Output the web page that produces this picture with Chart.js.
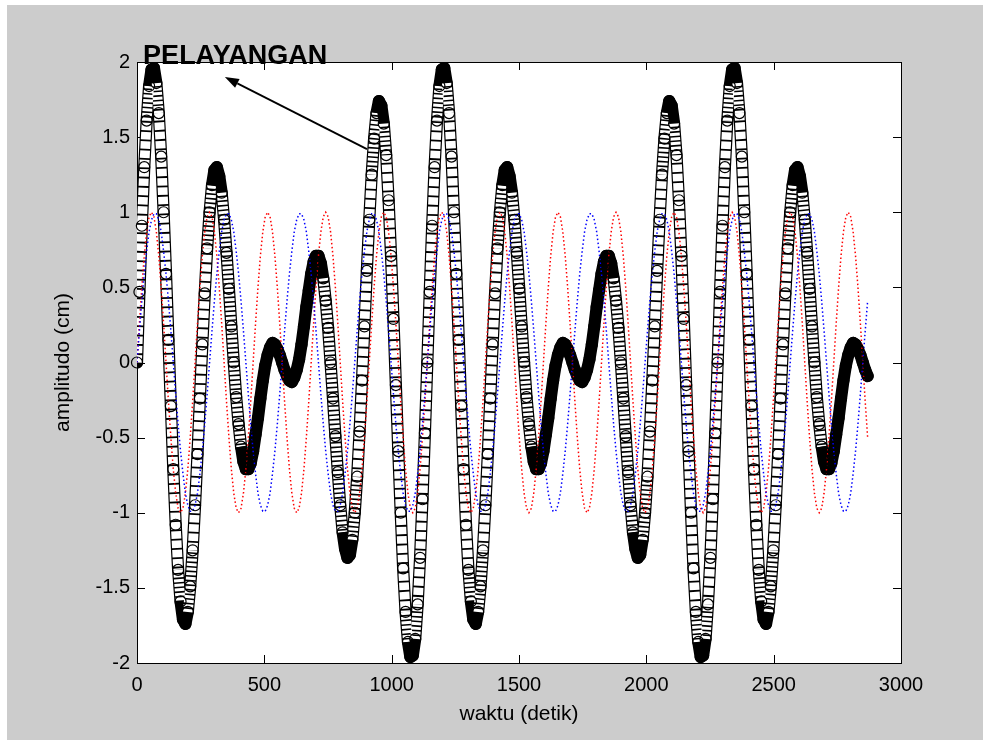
<!DOCTYPE html>
<html>
<head>
<meta charset="utf-8">
<title>Pelayangan</title>
<script src="https://cdn.jsdelivr.net/npm/chart.js@4.4.1/dist/chart.umd.min.js"></script>
<style>
  html, body { margin: 0; padding: 0; background: #fff; }
  canvas { display: block; }
</style>
</head>
<body>
<canvas id="chart" width="983" height="740"></canvas>
<script>
// waktu (detik) of each sample
const waktu = [
  0, 9.5, 19, 28.5, 38, 47.5, 57, 66.5, 76, 85.5,
  95, 104.5, 114, 123.5, 133, 142.5, 152, 161.5, 171, 180.5,
  190, 199.5, 209, 218.5, 228, 237.5, 247, 256.5, 266, 275.5,
  285, 294.5, 304, 313.5, 323, 332.5, 342, 351.5, 361, 370.5,
  380, 389.5, 399, 408.5, 418, 427.5, 437, 446.5, 456, 465.5,
  475, 484.5, 494, 503.5, 513, 522.5, 532, 541.5, 551, 560.5,
  570, 579.5, 589, 598.5, 608, 617.5, 627, 636.5, 646, 655.5,
  665, 674.5, 684, 693.5, 703, 712.5, 722, 731.5, 741, 750.5,
  760, 769.5, 779, 788.5, 798, 807.5, 817, 826.5, 836, 845.5,
  855, 864.5, 874, 883.5, 893, 902.5, 912, 921.5, 931, 940.5,
  950, 959.5, 969, 978.5, 988, 997.5, 1007, 1016.5, 1026, 1035.5,
  1045, 1054.5, 1064, 1073.5, 1083, 1092.5, 1102, 1111.5, 1121, 1130.5,
  1140, 1149.5, 1159, 1168.5, 1178, 1187.5, 1197, 1206.5, 1216, 1225.5,
  1235, 1244.5, 1254, 1263.5, 1273, 1282.5, 1292, 1301.5, 1311, 1320.5,
  1330, 1339.5, 1349, 1358.5, 1368, 1377.5, 1387, 1396.5, 1406, 1415.5,
  1425, 1434.5, 1444, 1453.5, 1463, 1472.5, 1482, 1491.5, 1501, 1510.5,
  1520, 1529.5, 1539, 1548.5, 1558, 1567.5, 1577, 1586.5, 1596, 1605.5,
  1615, 1624.5, 1634, 1643.5, 1653, 1662.5, 1672, 1681.5, 1691, 1700.5,
  1710, 1719.5, 1729, 1738.5, 1748, 1757.5, 1767, 1776.5, 1786, 1795.5,
  1805, 1814.5, 1824, 1833.5, 1843, 1852.5, 1862, 1871.5, 1881, 1890.5,
  1900, 1909.5, 1919, 1928.5, 1938, 1947.5, 1957, 1966.5, 1976, 1985.5,
  1995, 2004.5, 2014, 2023.5, 2033, 2042.5, 2052, 2061.5, 2071, 2080.5,
  2090, 2099.5, 2109, 2118.5, 2128, 2137.5, 2147, 2156.5, 2166, 2175.5,
  2185, 2194.5, 2204, 2213.5, 2223, 2232.5, 2242, 2251.5, 2261, 2270.5,
  2280, 2289.5, 2299, 2308.5, 2318, 2327.5, 2337, 2346.5, 2356, 2365.5,
  2375, 2384.5, 2394, 2403.5, 2413, 2422.5, 2432, 2441.5, 2451, 2460.5,
  2470, 2479.5, 2489, 2498.5, 2508, 2517.5, 2527, 2536.5, 2546, 2555.5,
  2565, 2574.5, 2584, 2593.5, 2603, 2612.5, 2622, 2631.5, 2641, 2650.5,
  2660, 2669.5, 2679, 2688.5, 2698, 2707.5, 2717, 2726.5, 2736, 2745.5,
  2755, 2764.5, 2774, 2783.5, 2793, 2802.5, 2812, 2821.5, 2831, 2840.5,
  2850, 2859.5, 2869
];

// red dotted wave
const sinyalMerah = [
  0,0.26,0.5,0.71,0.87,0.97,1,0.97,0.87,0.71,0.5,0.26,0,-0.26,-0.5,-0.71,-0.87,-0.97,-1,-0.97,-0.87,-0.71,-0.5,-0.26,
  0,0.26,0.5,0.71,0.87,0.97,1,0.97,0.87,0.71,0.5,0.26,0,-0.26,-0.5,-0.71,-0.87,-0.97,-1,-0.97,-0.87,-0.71,-0.5,-0.26,
  0,0.26,0.5,0.71,0.87,0.97,1,0.97,0.87,0.71,0.5,0.26,0,-0.26,-0.5,-0.71,-0.87,-0.97,-1,-0.97,-0.87,-0.71,-0.5,-0.26,
  0,0.26,0.5,0.71,0.87,0.97,1,0.97,0.87,0.71,0.5,0.26,0,-0.26,-0.5,-0.71,-0.87,-0.97,-1,-0.97,-0.87,-0.71,-0.5,-0.26,
  0,0.26,0.5,0.71,0.87,0.97,1,0.97,0.87,0.71,0.5,0.26,0,-0.26,-0.5,-0.71,-0.87,-0.97,-1,-0.97,-0.87,-0.71,-0.5,-0.26,
  0,0.26,0.5,0.71,0.87,0.97,1,0.97,0.87,0.71,0.5,0.26,0,-0.26,-0.5,-0.71,-0.87,-0.97,-1,-0.97,-0.87,-0.71,-0.5,-0.26,
  0,0.26,0.5,0.71,0.87,0.97,1,0.97,0.87,0.71,0.5,0.26,0,-0.26,-0.5,-0.71,-0.87,-0.97,-1,-0.97,-0.87,-0.71,-0.5,-0.26,
  0,0.26,0.5,0.71,0.87,0.97,1,0.97,0.87,0.71,0.5,0.26,0,-0.26,-0.5,-0.71,-0.87,-0.97,-1,-0.97,-0.87,-0.71,-0.5,-0.26,
  0,0.26,0.5,0.71,0.87,0.97,1,0.97,0.87,0.71,0.5,0.26,0,-0.26,-0.5,-0.71,-0.87,-0.97,-1,-0.97,-0.87,-0.71,-0.5,-0.26,
  0,0.26,0.5,0.71,0.87,0.97,1,0.97,0.87,0.71,0.5,0.26,0,-0.26,-0.5,-0.71,-0.87,-0.97,-1,-0.97,-0.87,-0.71,-0.5,-0.26,
  0,0.26,0.5,0.71,0.87,0.97,1,0.97,0.87,0.71,0.5,0.26,0,-0.26,-0.5,-0.71,-0.87,-0.97,-1,-0.97,-0.87,-0.71,-0.5,-0.26,
  0,0.26,0.5,0.71,0.87,0.97,1,0.97,0.87,0.71,0.5,0.26,0,-0.26,-0.5,-0.71,-0.87,-0.97,-1,-0.97,-0.87,-0.71,-0.5,-0.26,
  0,0.26,0.5,0.71,0.87,0.97,1,0.97,0.87,0.71,0.5,0.26,0,-0.26,-0.5
];

// blue dotted wave
const sinyalBiru = [
  0,0.21,0.41,0.59,0.74,0.87,0.95,0.99,0.99,0.95,0.87,0.74,0.59,0.41,0.21,0,-0.21,-0.41,-0.59,-0.74,-0.87,-0.95,-0.99,-0.99,-0.95,-0.87,-0.74,-0.59,-0.41,-0.21,
  0,0.21,0.41,0.59,0.74,0.87,0.95,0.99,0.99,0.95,0.87,0.74,0.59,0.41,0.21,0,-0.21,-0.41,-0.59,-0.74,-0.87,-0.95,-0.99,-0.99,-0.95,-0.87,-0.74,-0.59,-0.41,-0.21,
  0,0.21,0.41,0.59,0.74,0.87,0.95,0.99,0.99,0.95,0.87,0.74,0.59,0.41,0.21,0,-0.21,-0.41,-0.59,-0.74,-0.87,-0.95,-0.99,-0.99,-0.95,-0.87,-0.74,-0.59,-0.41,-0.21,
  0,0.21,0.41,0.59,0.74,0.87,0.95,0.99,0.99,0.95,0.87,0.74,0.59,0.41,0.21,0,-0.21,-0.41,-0.59,-0.74,-0.87,-0.95,-0.99,-0.99,-0.95,-0.87,-0.74,-0.59,-0.41,-0.21,
  0,0.21,0.41,0.59,0.74,0.87,0.95,0.99,0.99,0.95,0.87,0.74,0.59,0.41,0.21,0,-0.21,-0.41,-0.59,-0.74,-0.87,-0.95,-0.99,-0.99,-0.95,-0.87,-0.74,-0.59,-0.41,-0.21,
  0,0.21,0.41,0.59,0.74,0.87,0.95,0.99,0.99,0.95,0.87,0.74,0.59,0.41,0.21,0,-0.21,-0.41,-0.59,-0.74,-0.87,-0.95,-0.99,-0.99,-0.95,-0.87,-0.74,-0.59,-0.41,-0.21,
  0,0.21,0.41,0.59,0.74,0.87,0.95,0.99,0.99,0.95,0.87,0.74,0.59,0.41,0.21,0,-0.21,-0.41,-0.59,-0.74,-0.87,-0.95,-0.99,-0.99,-0.95,-0.87,-0.74,-0.59,-0.41,-0.21,
  0,0.21,0.41,0.59,0.74,0.87,0.95,0.99,0.99,0.95,0.87,0.74,0.59,0.41,0.21,0,-0.21,-0.41,-0.59,-0.74,-0.87,-0.95,-0.99,-0.99,-0.95,-0.87,-0.74,-0.59,-0.41,-0.21,
  0,0.21,0.41,0.59,0.74,0.87,0.95,0.99,0.99,0.95,0.87,0.74,0.59,0.41,0.21,0,-0.21,-0.41,-0.59,-0.74,-0.87,-0.95,-0.99,-0.99,-0.95,-0.87,-0.74,-0.59,-0.41,-0.21,
  0,0.21,0.41,0.59,0.74,0.87,0.95,0.99,0.99,0.95,0.87,0.74,0.59,0.41,0.21,0,-0.21,-0.41,-0.59,-0.74,-0.87,-0.95,-0.99,-0.99,-0.95,-0.87,-0.74,-0.59,-0.41,-0.21,
  0,0.21,0.41
];

// black circles (pelayangan)
const pelayangan = [
  0,0.47,0.91,1.30,1.61,1.84,1.95,1.96,1.86,1.66,
  1.37,1.00,0.59,0.15,-0.29,-0.71,-1.08,-1.38,-1.59,-1.71,
  -1.74,-1.66,-1.49,-1.25,-0.95,-0.61,-0.24,0.12,0.46,0.76,
  1.00,1.18,1.28,1.30,1.24,1.13,0.95,0.73,0.49,0.24,
  0,-0.23,-0.41,-0.56,-0.66,-0.71,-0.71,-0.67,-0.59,-0.48,
  -0.37,-0.24,-0.12,-0.02,0.05,0.10,0.13,0.12,0.09,0.05,
  0,-0.05,-0.09,-0.12,-0.13,-0.10,-0.05,0.02,0.12,0.24,
  0.37,0.48,0.59,0.67,0.71,0.71,0.66,0.56,0.41,0.23,
  0,-0.24,-0.49,-0.73,-0.95,-1.13,-1.24,-1.30,-1.28,-1.18,
  -1.00,-0.76,-0.46,-0.12,0.24,0.61,0.95,1.25,1.49,1.66,
  1.74,1.71,1.59,1.38,1.08,0.71,0.29,-0.15,-0.59,-1.00,
  -1.37,-1.66,-1.86,-1.96,-1.95,-1.84,-1.61,-1.30,-0.91,-0.47,
  0,0.47,0.91,1.30,1.61,1.84,1.95,1.96,1.86,1.66,
  1.37,1.00,0.59,0.15,-0.29,-0.71,-1.08,-1.38,-1.59,-1.71,
  -1.74,-1.66,-1.49,-1.25,-0.95,-0.61,-0.24,0.12,0.46,0.76,
  1.00,1.18,1.28,1.30,1.24,1.13,0.95,0.73,0.49,0.24,
  0,-0.23,-0.41,-0.56,-0.66,-0.71,-0.71,-0.67,-0.59,-0.48,
  -0.37,-0.24,-0.12,-0.02,0.05,0.10,0.13,0.12,0.09,0.05,
  0,-0.05,-0.09,-0.12,-0.13,-0.10,-0.05,0.02,0.12,0.24,
  0.37,0.48,0.59,0.67,0.71,0.71,0.66,0.56,0.41,0.23,
  0,-0.24,-0.49,-0.73,-0.95,-1.13,-1.24,-1.30,-1.28,-1.18,
  -1.00,-0.76,-0.46,-0.12,0.24,0.61,0.95,1.25,1.49,1.66,
  1.74,1.71,1.59,1.38,1.08,0.71,0.29,-0.15,-0.59,-1.00,
  -1.37,-1.66,-1.86,-1.96,-1.95,-1.84,-1.61,-1.30,-0.91,-0.47,
  0,0.47,0.91,1.30,1.61,1.84,1.95,1.96,1.86,1.66,
  1.37,1.00,0.59,0.15,-0.29,-0.71,-1.08,-1.38,-1.59,-1.71,
  -1.74,-1.66,-1.49,-1.25,-0.95,-0.61,-0.24,0.12,0.46,0.76,
  1.00,1.18,1.28,1.30,1.24,1.13,0.95,0.73,0.49,0.24,
  0,-0.23,-0.41,-0.56,-0.66,-0.71,-0.71,-0.67,-0.59,-0.48,
  -0.37,-0.24,-0.12,-0.02,0.05,0.10,0.13,0.12,0.09,0.05,
  0,-0.05,-0.09
];

const xTicks = [0, 500, 1000, 1500, 2000, 2500, 3000];
const yTicks = [-2, -1.5, -1, -0.5, 0, 0.5, 1, 1.5, 2];

// annotation text + arrow (data units)
const catatan = 'PELAYANGAN';
const catatanPos = { x: 24, y: 1.99 };
const panahDari = { x: 903, y: 1.42 };
const panahKe = { x: 345, y: 1.9 };

const FONT = "'Liberation Sans', Arial, Helvetica, sans-serif";

const background = {
  id: 'background',
  beforeDraw(chart) {
    const { ctx, chartArea: a } = chart;
    ctx.save();
    ctx.fillStyle = '#ffffff';
    ctx.fillRect(0, 0, chart.width, chart.height);
    ctx.fillStyle = '#cccccc';
    ctx.fillRect(7, 5, chart.width - 7, chart.height - 5);
    ctx.fillStyle = '#ffffff';
    ctx.fillRect(a.left, a.top, a.right - a.left, a.bottom - a.top);
    ctx.restore();
  }
};

// matlab style box with inward ticks
const axesBox = {
  id: 'axesBox',
  beforeDatasetsDraw(chart) {
    const { ctx, chartArea: a, scales } = chart;
    const len = 8;
    ctx.save();
    ctx.strokeStyle = '#000';
    ctx.lineWidth = 1;
    ctx.beginPath();
    xTicks.forEach(v => {
      const px = Math.round(scales.x.getPixelForValue(v)) + 0.5;
      ctx.moveTo(px, a.bottom); ctx.lineTo(px, a.bottom - len);
      ctx.moveTo(px, a.top); ctx.lineTo(px, a.top + len);
    });
    yTicks.forEach(v => {
      const py = Math.round(scales.y.getPixelForValue(v)) + 0.5;
      ctx.moveTo(a.left, py); ctx.lineTo(a.left + len, py);
      ctx.moveTo(a.right, py); ctx.lineTo(a.right - len, py);
    });
    ctx.stroke();
    ctx.strokeRect(Math.round(a.left) + 0.5, Math.round(a.top) + 0.5,
      Math.round(a.right - a.left), Math.round(a.bottom - a.top));
    ctx.restore();
  }
};

const annotasi = {
  id: 'annotasi',
  afterDraw(chart) {
    const { ctx, scales } = chart;
    const x1 = scales.x.getPixelForValue(panahDari.x), y1 = scales.y.getPixelForValue(panahDari.y);
    const x2 = scales.x.getPixelForValue(panahKe.x), y2 = scales.y.getPixelForValue(panahKe.y);
    const ang = Math.atan2(y2 - y1, x2 - x1);
    const head = 14, half = 5;
    ctx.save();
    ctx.strokeStyle = '#000';
    ctx.fillStyle = '#000';
    ctx.lineWidth = 1.8;
    ctx.beginPath();
    ctx.moveTo(x1, y1);
    ctx.lineTo(x2 - Math.cos(ang) * head, y2 - Math.sin(ang) * head);
    ctx.stroke();
    ctx.beginPath();
    ctx.moveTo(x2, y2);
    ctx.lineTo(x2 - Math.cos(ang) * head - Math.sin(ang) * half, y2 - Math.sin(ang) * head + Math.cos(ang) * half);
    ctx.lineTo(x2 - Math.cos(ang) * head + Math.sin(ang) * half, y2 - Math.sin(ang) * head - Math.cos(ang) * half);
    ctx.closePath();
    ctx.fill();
    ctx.font = 'bold 27px ' + FONT;
    ctx.textBaseline = 'alphabetic';
    ctx.textAlign = 'left';
    ctx.fillText(catatan, scales.x.getPixelForValue(catatanPos.x), scales.y.getPixelForValue(catatanPos.y));
    ctx.restore();
  }
};

// how steep a segment of the ring chain is (in y units per sample)
const langkah = c => Math.abs(c.p1.parsed.y - c.p0.parsed.y);

const ctx = document.getElementById('chart').getContext('2d');
const chart = new Chart(ctx, {
  type: 'line',
  data: {
    labels: waktu,
    datasets: [
      {
        label: 'pelayangan',
        data: pelayangan,
        showLine: false,
        pointRadius: 5.5,
        pointBorderWidth: 1.2,
        pointBorderColor: '#000',
        pointBackgroundColor: 'rgba(0,0,0,0)',
        clip: false,
        order: 1
      },
      {
        label: 'gelombang 2',
        data: sinyalBiru,
        borderColor: '#0000ff',
        borderWidth: 1.5,
        borderDash: [1.5, 2.5],
        pointRadius: 0,
        tension: 0,
        fill: false,
        order: 2
      },
      {
        label: 'gelombang 1',
        data: sinyalMerah,
        borderColor: '#ff0000',
        borderWidth: 1.5,
        borderDash: [1.5, 2.5],
        pointRadius: 0,
        tension: 0,
        fill: false,
        order: 3
      },
      {
        // inside of the ring chain: solid where the rings pile up
        label: 'pelayangan-dalam',
        data: pelayangan,
        borderColor: '#ffffff',
        borderWidth: 9.8,
        borderJoinStyle: 'round',
        borderCapStyle: 'butt',
        borderDash: [7, 2],
        segment: {
          borderColor: c => langkah(c) <= 0.13 ? '#000000' : '#ffffff',
          borderDash: c => langkah(c) <= 0.13 ? [] : (langkah(c) <= 0.26 ? [3, 1.6] : [7.5, 1.8])
        },
        pointRadius: 0,
        tension: 0,
        fill: false,
        order: 4
      },
      {
        // outline of the ring chain
        label: 'pelayangan-luar',
        data: pelayangan,
        borderColor: '#000000',
        borderWidth: 12.2,
        borderJoinStyle: 'round',
        borderCapStyle: 'round',
        pointRadius: 0,
        tension: 0,
        fill: false,
        order: 5
      }
    ]
  },
  options: {
    responsive: false,
    animation: false,
    devicePixelRatio: 1,
    layout: { padding: { top: 62, right: 82, bottom: 0, left: 0 } },
    plugins: {
      legend: { display: false },
      tooltip: { enabled: false }
    },
    scales: {
      x: {
        type: 'linear',
        min: 0,
        max: 3000,
        afterBuildTicks: s => { s.ticks = xTicks.map(v => ({ value: v })); },
        afterFit: s => { s.height = 77; },
        grid: { display: false, drawTicks: false },
        border: { display: false },
        ticks: {
          color: '#000',
          padding: 10,
          maxRotation: 0,
          font: { family: FONT, size: 20 },
          callback: v => String(v)
        },
        title: {
          display: true,
          text: 'waktu (detik)',
          color: '#000',
          font: { family: FONT, size: 21 },
          padding: { top: 0, bottom: 13 }
        }
      },
      y: {
        min: -2,
        max: 2,
        afterBuildTicks: s => { s.ticks = yTicks.map(v => ({ value: v })); },
        afterFit: s => { s.width = 137; },
        grid: { display: false, drawTicks: false },
        border: { display: false },
        ticks: {
          color: '#000',
          padding: 7,
          font: { family: FONT, size: 20 },
          callback: v => String(v)
        },
        title: {
          display: true,
          text: 'amplitudo (cm)',
          color: '#000',
          font: { family: FONT, size: 21 },
          padding: { top: 51, bottom: 0 }
        }
      }
    }
  },
  plugins: [background, axesBox, annotasi]
});
</script>
</body>
</html>
